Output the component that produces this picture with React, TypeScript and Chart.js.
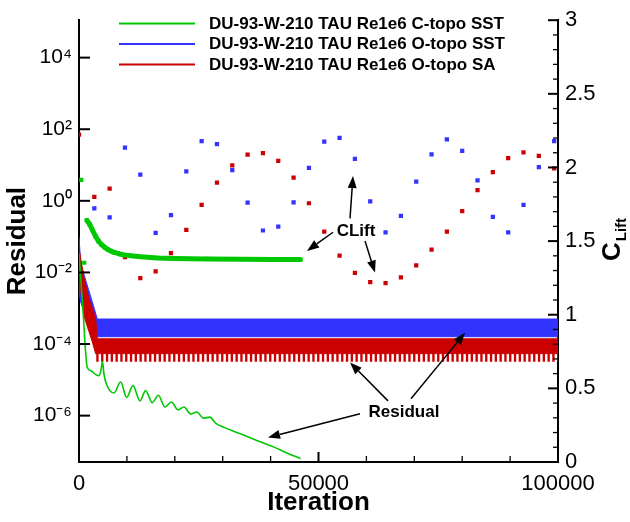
import React, { useEffect, useRef } from 'react';
import { Chart, registerables } from 'chart.js';

Chart.register(...registerables);

// ---------- series names / colours ----------
const SERIES_NAMES = [
  'DU-93-W-210 TAU Re1e6 C-topo SST',
  'DU-93-W-210 TAU Re1e6 O-topo SST',
  'DU-93-W-210 TAU Re1e6 O-topo SA',
];
const GREEN = '#00c800';
const BLUE = '#3333ff';
const RED = '#cc0000';
const SERIES_COLORS = [GREEN, BLUE, RED];

// ---------- axis ticks ----------
const X_MAJOR_TICKS = [0, 50000, 100000];
const X_MINOR_TICKS = [10000, 20000, 30000, 40000, 60000, 70000, 80000, 90000];
const LEFT_TICKS = [1e-6, 1e-4, 1e-2, 1, 1e2, 1e4];
const RIGHT_TICKS = [0, 0.5, 1, 1.5, 2, 2.5, 3];
const RIGHT_MINOR_TICKS = [0.1, 0.2, 0.3, 0.4, 0.6, 0.7, 0.8, 0.9, 1.1, 1.2, 1.3, 1.4, 1.6, 1.7, 1.8, 1.9, 2.1, 2.2, 2.3, 2.4, 2.6, 2.7, 2.8, 2.9];

// ---------- CLift (right axis) ----------
const LIFT_ITER = [0, 3200, 6400, 9600, 12800, 16000, 19200, 22400, 25600, 28800, 32000, 35200, 38400, 41600, 44800, 48000,
  51200, 54400, 57600, 60800, 64000, 67200, 70400, 73600, 76800, 80000, 83200, 86400, 89600, 92800, 96000, 99200];
const BLUE_LIFT = [null, 1.723, 1.661, 2.134, 1.951, 1.556, 1.676, 1.973, 2.179, 2.158, 1.982, 1.761, 1.572, 1.598, 1.763, 1.998,
  2.176, 2.201, 2.058, 1.770, 1.560, 1.672, 1.904, 2.089, 2.190, 2.112, 1.913, 1.665, 1.560, 1.746, 2.002, 2.179];
const RED_LIFT = [2.223, 1.801, 1.857, 1.391, 1.248, 1.295, 1.418, 1.576, 1.746, 1.897, 2.014, 2.087, 2.098, 2.045, 1.931, 1.757,
  1.565, 1.402, 1.284, 1.221, 1.214, 1.254, 1.335, 1.442, 1.565, 1.703, 1.846, 1.969, 2.063, 2.103, 2.078, 1.994];
const GREEN_LIFT_EARLY_ITER = [480, 1100];
const GREEN_LIFT_EARLY = [1.915, 1.353];
const GREEN_LIFT_ITER = [1600, 2230, 2860, 3480, 4110, 4740, 5360, 5990, 6610, 7310, 8000, 8700, 9400, 10790, 12880, 16350,
  19830, 26800, 33750, 40710, 46270];
const GREEN_LIFT = [1.643, 1.614, 1.572, 1.531, 1.498, 1.475, 1.458, 1.444, 1.433, 1.424, 1.418, 1.411, 1.406, 1.400, 1.393, 1.386,
  1.382, 1.379, 1.377, 1.375, 1.375];

// ---------- residuals (left log axis) ----------
const GREEN_RES_ITER = [0, 500, 1000, 1300, 1700, 2500, 3500, 4200, 4600, 4900, 5200, 5560, 7300, 8700, 9950, 11270, 12730,
  13900, 15300, 16560, 17950, 19270, 20670, 21920, 23300, 24600, 26000, 27300, 28500, 30270, 33750, 37230, 40710, 43490, 46270];
const GREEN_RES = [0.034, 3.7e-3, 4e-4, 8.3e-5, 2.3e-5, 1.8e-5, 1.4e-5, 1.3e-5, 1.9e-5, 3.2e-5, 1.5e-5, 8.9e-6, 4.3e-6, 8.7e-6,
  3.2e-6, 6.9e-6, 2.6e-6, 5.0e-6, 2.3e-6, 3.7e-6, 1.74e-6, 2.4e-6, 1.45e-6, 1.74e-6, 1.12e-6, 1.26e-6, 8.5e-7, 9.1e-7, 6.2e-7,
  4.7e-7, 3.1e-7, 2.0e-7, 1.32e-7, 8.9e-8, 6.3e-8];

// blue O-topo SST residual: upper / lower envelope of the oscillation band
const BLUE_BAND_ITER = [0, 350, 1000, 2000, 3000, 3820, 100000];
const BLUE_BAND_HIGH = [0.1, 0.018, 9.1e-3, 3.3e-3, 1.2e-3, 5.0e-4, 5.0e-4];
const BLUE_BAND_LOW = [2.7e-3, 1.5e-3, 8e-4, 3e-4, 1.6e-4, 1.6e-4, 1.6e-4];

// red O-topo SA residual: upper / lower envelope of the oscillation band
const RED_BAND_ITER = [0, 1040, 2090, 2780, 3490, 3820, 100000];
const RED_BAND_HIGH = [0.047, 7.1e-3, 1.78e-3, 1.05e-3, 5.0e-4, 1.4e-4, 1.4e-4];
const RED_BAND_LOW = [7.9e-3, 6e-4, 2.2e-4, 1.14e-4, 5.3e-5, 5.4e-5, 5.4e-5];
// minima of the red oscillation (comb below the band)
const RED_COMB_ITER = [3600, 100000];
const RED_COMB = [4.3e-5, 4.3e-5];

const pts = (xs: number[], ys: (number | null)[]) => xs.map((x, i) => ({ x, y: ys[i] }));

const SUP: Record<string, string> = {
  '-': '\u207B', '0': '\u2070', '1': '\u00B9', '2': '\u00B2', '3': '\u00B3', '4': '\u2074',
  '5': '\u2075', '6': '\u2076', '7': '\u2077', '8': '\u2078', '9': '\u2079',
};
const pow10Label = (v: number) =>
  '10' + String(Math.round(Math.log10(v))).split('').map((c) => SUP[c] || c).join('');

const FONT = "'Liberation Sans', Arial, Helvetica, sans-serif";

function arrow(ctx: CanvasRenderingContext2D, x1: number, y1: number, x2: number, y2: number) {
  const a = Math.atan2(y2 - y1, x2 - x1);
  const L = 12, W = 4.5;
  const bx = x2 - L * Math.cos(a), by = y2 - L * Math.sin(a);
  ctx.beginPath();
  ctx.moveTo(x1, y1);
  ctx.lineTo(bx, by);
  ctx.stroke();
  ctx.beginPath();
  ctx.moveTo(x2, y2);
  ctx.lineTo(bx + W * Math.sin(a), by - W * Math.cos(a));
  ctx.lineTo(bx - W * Math.sin(a), by + W * Math.cos(a));
  ctx.closePath();
  ctx.fill();
}

const decorations = {
  id: 'decorations',
  afterDraw(chart: any) {
    const { ctx, chartArea, scales } = chart;
    const { left, right, bottom } = chartArea;
    const sx = scales.x, sy = scales.y, sy1 = scales.y1;
    ctx.save();
    ctx.strokeStyle = '#000';
    ctx.fillStyle = '#000';
    // inward tick marks
    const seg = (x1: number, y1: number, x2: number, y2: number, w: number) => {
      ctx.lineWidth = w;
      ctx.beginPath();
      ctx.moveTo(x1, y1);
      ctx.lineTo(x2, y2);
      ctx.stroke();
    };
    LEFT_TICKS.forEach((v) => { const y = sy.getPixelForValue(v); seg(left, y, left + 11, y, 2); });
    RIGHT_TICKS.forEach((v) => { const y = sy1.getPixelForValue(v); seg(right - 10, y, right, y, 2); });
    RIGHT_MINOR_TICKS.forEach((v) => { const y = sy1.getPixelForValue(v); seg(right - 5, y, right, y, 1.3); });
    X_MAJOR_TICKS.forEach((v) => { const x = sx.getPixelForValue(v); seg(x, bottom - 10, x, bottom, 2); });
    X_MINOR_TICKS.forEach((v) => { const x = sx.getPixelForValue(v); seg(x, bottom - 6, x, bottom, 1.3); });

    // legend
    ctx.font = `bold 17px ${FONT}`;
    ctx.textBaseline = 'middle';
    ctx.textAlign = 'left';
    SERIES_NAMES.forEach((name, i) => {
      const y = 23.5 + i * 20.5;
      ctx.strokeStyle = SERIES_COLORS[i];
      seg(left + 40, y, left + 116, y, 2);
      ctx.fillStyle = '#000';
      ctx.fillText(name, left + 130, y + 0.5);
    });

    // right axis title C_Lift (rotated)
    ctx.save();
    ctx.translate(right + 62, 261);
    ctx.rotate(-Math.PI / 2);
    ctx.textBaseline = 'alphabetic';
    ctx.font = `bold 26px ${FONT}`;
    ctx.fillText('C', 0, 0);
    const cw = ctx.measureText('C').width;
    ctx.font = `bold 15px ${FONT}`;
    ctx.fillText('Lift', cw + 1, 6);
    ctx.restore();

    // annotations
    ctx.strokeStyle = '#000';
    ctx.fillStyle = '#000';
    ctx.lineWidth = 1.5;
    const P = (it: number, cl: number) => [sx.getPixelForValue(it), sy1.getPixelForValue(cl)];
    ctx.font = `bold 17px ${FONT}`;
    ctx.textAlign = 'center';
    ctx.textBaseline = 'middle';
    const [tx1, ty1] = P(57830, 1.567);
    ctx.fillText('CLift', tx1, ty1);
    const [tx2, ty2] = P(67850, 0.335);
    ctx.fillText('Residual', tx2, ty2);
    const arrows: [number, number, number, number][] = [
      [53030, 1.560, 47600, 1.433],
      [56580, 1.654, 57200, 1.942],
      [59710, 1.500, 61800, 1.286],
      [58660, 0.328, 39460, 0.167],
      [64510, 0.415, 56580, 0.676],
      [69310, 0.429, 80590, 0.877],
    ];
    arrows.forEach(([a, b, c, d]) => {
      const [x1, y1] = P(a, b);
      const [x2, y2] = P(c, d);
      arrow(ctx, x1, y1, x2, y2);
    });
    ctx.restore();
  },
};

export default function App() {
  const ref = useRef<HTMLCanvasElement | null>(null);
  useEffect(() => {
    if (!ref.current) return;
    const chart = new Chart(ref.current, {
      type: 'line',
      data: {
        datasets: [
          {
            label: SERIES_NAMES[0] + ' CLift', yAxisID: 'y1', order: 0,
            data: pts(GREEN_LIFT_ITER, GREEN_LIFT),
            borderColor: GREEN, backgroundColor: GREEN, borderWidth: 5,
            pointStyle: 'rect', pointRadius: 3, pointBorderWidth: 0, fill: false,
          },
          {
            label: SERIES_NAMES[0] + ' CLift start', yAxisID: 'y1', order: 0,
            data: pts(GREEN_LIFT_EARLY_ITER, GREEN_LIFT_EARLY), showLine: false,
            borderColor: GREEN, backgroundColor: GREEN, pointStyle: 'rect', pointRadius: 3, pointBorderWidth: 0,
          },
          {
            label: SERIES_NAMES[1] + ' CLift', yAxisID: 'y1', order: 0,
            data: pts(LIFT_ITER, BLUE_LIFT), showLine: false,
            borderColor: BLUE, backgroundColor: BLUE, pointStyle: 'rect', pointRadius: 3, pointBorderWidth: 0,
          },
          {
            label: SERIES_NAMES[2] + ' CLift', yAxisID: 'y1', order: 0,
            data: pts(LIFT_ITER, RED_LIFT), showLine: false,
            borderColor: RED, backgroundColor: RED, pointStyle: 'rect', pointRadius: 3, pointBorderWidth: 0,
          },
          {
            label: SERIES_NAMES[0] + ' Residual', yAxisID: 'y', order: 1,
            data: pts(GREEN_RES_ITER, GREEN_RES),
            borderColor: GREEN, borderWidth: 1.6, pointRadius: 0, cubicInterpolationMode: 'monotone', fill: false,
          },
          {
            label: SERIES_NAMES[2] + ' Residual minima', yAxisID: 'y', order: 2,
            data: pts(RED_COMB_ITER, RED_COMB),
            borderColor: RED, borderWidth: 9, borderDash: [2.4, 2.4], borderCapStyle: 'butt', pointRadius: 0, fill: false,
          },
          {
            label: SERIES_NAMES[2] + ' Residual', yAxisID: 'y', order: 3,
            data: pts(RED_BAND_ITER, RED_BAND_HIGH),
            borderColor: RED, backgroundColor: RED, borderWidth: 1, pointRadius: 0, fill: '+1',
          },
          {
            label: SERIES_NAMES[2] + ' Residual low', yAxisID: 'y', order: 3,
            data: pts(RED_BAND_ITER, RED_BAND_LOW),
            borderColor: RED, borderWidth: 1, pointRadius: 0, fill: false,
          },
          {
            label: SERIES_NAMES[1] + ' Residual', yAxisID: 'y', order: 4,
            data: pts(BLUE_BAND_ITER, BLUE_BAND_HIGH),
            borderColor: BLUE, backgroundColor: BLUE, borderWidth: 1, pointRadius: 0, fill: '+1',
          },
          {
            label: SERIES_NAMES[1] + ' Residual low', yAxisID: 'y', order: 4,
            data: pts(BLUE_BAND_ITER, BLUE_BAND_LOW),
            borderColor: BLUE, borderWidth: 1, pointRadius: 0, fill: false,
          },
        ],
      },
      options: {
        animation: false,
        responsive: false,
        devicePixelRatio: 1,
        layout: { padding: { top: 14, left: 0, right: 0, bottom: 0 } },
        plugins: { legend: { display: false }, tooltip: { enabled: false } },
        scales: {
          x: {
            type: 'linear', min: 0, max: 100000,
            afterBuildTicks: (s: any) => { s.ticks = X_MAJOR_TICKS.map((value) => ({ value })); },
            afterFit: (s: any) => { s.height = 60; },
            grid: { display: false, drawTicks: false },
            border: { display: true, color: '#000', width: 2 },
            ticks: {
              color: '#000', font: { family: FONT, size: 22 }, padding: 9, maxRotation: 0, autoSkip: false,
              callback: (v: any) => String(v),
            },
            title: {
              display: true, text: 'Iteration', color: '#000',
              font: { family: FONT, size: 26, weight: 'bold' }, padding: { top: 0, bottom: 4 },
            },
          },
          y: {
            type: 'logarithmic', position: 'left', min: 5.07e-8, max: 1.11e5,
            afterBuildTicks: (s: any) => { s.ticks = LEFT_TICKS.map((value) => ({ value })); },
            afterFit: (s: any) => { s.width = 79; },
            grid: { display: false, drawTicks: false },
            border: { display: true, color: '#000', width: 2 },
            ticks: {
              color: '#000', font: { family: FONT, size: 21 }, padding: 7, autoSkip: false,
              callback: (v: any) => pow10Label(Number(v)),
            },
            title: {
              display: true, text: 'Residual', color: '#000',
              font: { family: FONT, size: 26, weight: 'bold' }, padding: { top: 2, bottom: 0 },
            },
          },
          y1: {
            type: 'linear', position: 'right', min: 0, max: 3,
            afterBuildTicks: (s: any) => { s.ticks = RIGHT_TICKS.map((value) => ({ value })); },
            afterFit: (s: any) => { s.width = 72; },
            grid: { display: false, drawTicks: false },
            border: { display: true, color: '#000', width: 2 },
            ticks: {
              color: '#000', font: { family: FONT, size: 22 }, padding: 7, autoSkip: false,
              callback: (v: any) => String(v),
            },
          },
        },
      },
      plugins: [decorations],
    } as any);
    return () => chart.destroy();
  }, []);
  return (
    <div style={{ position: 'absolute', left: 0, top: 0, width: 630, height: 522, background: '#fff' }}>
      <canvas ref={ref} width={630} height={522} />
    </div>
  );
}
